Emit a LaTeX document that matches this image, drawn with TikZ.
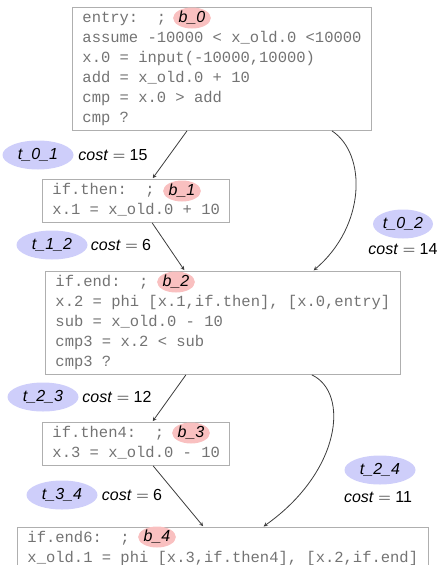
\documentclass[tikz,border=0pt]{standalone}
\usepackage{fontspec}
\setmainfont{Liberation Sans}
\setmonofont{Liberation Mono}
\usetikzlibrary{shapes.geometric, arrows}
\definecolor{bpink}{RGB}{249,192,192}
\definecolor{tblue}{RGB}{206,206,250}
\definecolor{boxgray}{RGB}{175,175,175}
\definecolor{codegray}{RGB}{115,115,115}
\definecolor{edgegray}{RGB}{60,60,60}
\tikzstyle{arrow} = [line width=0.8pt,draw=edgegray,->,>=stealth,shorten >=1pt]
\tikzstyle{block} = [draw=boxgray, line width=0.9pt, rectangle, anchor=north west, align=left,
    inner xsep=10pt, inner ysep=1.5pt, text=codegray,
    font=\ttfamily\fontsize{15.5}{20}\selectfont]
\tikzstyle{bname} = [ellipse, fill=bpink, inner sep=0pt, minimum width=36pt, minimum height=21pt,
    font=\itshape\fontsize{16}{18}\selectfont]
\tikzstyle{tname} = [ellipse, fill=tblue, inner sep=0pt, minimum width=71pt, minimum height=29pt,
    font=\itshape\fontsize{16}{18}\selectfont]
\tikzstyle{cost} = [inner sep=0pt, font=\fontsize{16}{18}\selectfont]

\begin{document}
\begin{tikzpicture}[x=1pt, y=-1pt]
        \useasboundingbox (0,0) rectangle (443,565);

        % blocks
        \node[block] (b0) at (72,7) {\strut entry:\ \ ;\\
            assume -10000 < x\_old.0 <10000\\
            x.0 = input(-10000,10000)\\
            add = x\_old.0 + 10\\
            cmp = x.0 > add\\
            cmp ?\strut};
        \node[block] (b1) at (42,179) {\strut if.then:\ \ ;\\
            x.1 = x\_old.0 + 10\strut};
        \node[block] (b2) at (45,271) {\strut if.end:\ \ ;\\
            x.2 = phi [x.1,if.then], [x.0,entry]\\
            sub = x\_old.0 - 10\\
            cmp3 = x.2 < sub\\
            cmp3 ?\strut};
        \node[block] (b3) at (42,422) {\strut if.then4:\ \ ;\\
            x.3 = x\_old.0 - 10\strut};
        \node[block] (b4) at (17,527) {\strut if.end6:\ \ ;\\
            x\_old.1 = phi [x.3,if.then4], [x.2,if.end]\strut};

        % block names
        \node[bname] (l0) at (192,18) {b\_0};
        \node[bname] (l1) at (182,191) {b\_1};
        \node[bname] (l2) at (176,282) {b\_2};
        \node[bname] (l3) at (191,433) {b\_3};
        \node[bname] (l4) at (157,537) {b\_4};

        % edges
        \draw[arrow] ([xshift=-35]b0.south) -- ([xshift=16]b1.north);
        \draw[arrow] ([xshift=110]b0.south) .. controls +(35,23) and +(53,-45) .. ([xshift=90]b2.north);
        \draw[arrow] ([xshift=16]b1.south) -- ([xshift=-38]b2.north);
        \draw[arrow] ([xshift=-37]b2.south) -- ([xshift=16]b3.north);
        \draw[arrow] ([xshift=89]b2.south) .. controls +(38,18) and +(78,-55) .. ([xshift=40]b4.north);
        \draw[arrow] ([xshift=17]b3.south) -- ([xshift=-19]b4.north);

        % edge names and costs
        \node[tname] (t01) at (38,155) {t\_0\_1};
        \node[cost] (k01) at (113,155) {\textit{cost} $=$ 15};
        \node[tname, minimum width=60pt] (t02) at (403,224) {t\_0\_2};
        \node[cost] (k02) at (403,249) {\textit{cost} $=$ 14};
        \node[tname] (t12) at (52,245) {t\_1\_2};
        \node[cost] (k12) at (121,245) {\textit{cost} $=$ 6};
        \node[tname] (t23) at (43,397) {t\_2\_3};
        \node[cost] (k23) at (117,397) {\textit{cost} $=$ 12};
        \node[tname] (t24) at (380,470) {t\_2\_4};
        \node[cost] (k24) at (378,497) {\textit{cost} $=$ 11};
        \node[tname] (t34) at (62,495) {t\_3\_4};
        \node[cost] (k34) at (132,495) {\textit{cost} $=$ 6};

    \end{tikzpicture}
\end{document}
